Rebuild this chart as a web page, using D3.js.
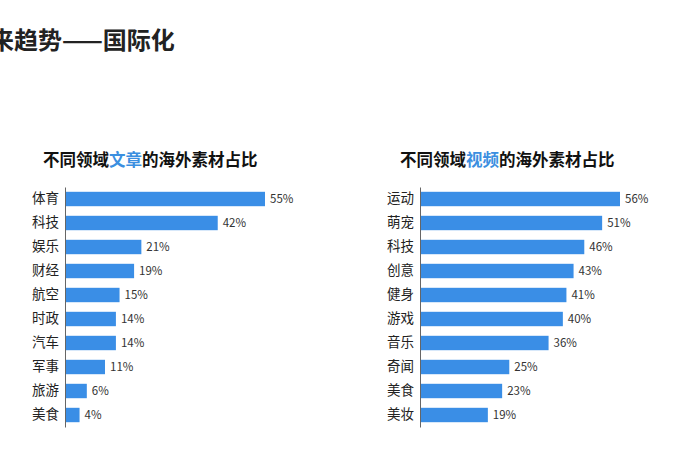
<!DOCTYPE html><html><head><meta charset="utf-8"><script src="https://cdn.jsdelivr.net/npm/d3@7"></script>
<style>body{margin:0;background:#fff}text{font-family:"Noto Sans CJK SC",sans-serif}</style></head><body><svg width="700" height="470"></svg>
<script>
const leftCats=["体育","科技","娱乐","财经","航空","时政","汽车","军事","旅游","美食"];
const leftVals=[55,42,21,19,15,14,14,11,6,4];
const rightCats=["运动","萌宠","科技","创意","健身","游戏","音乐","奇闻","美食","美妆"];
const rightVals=[56,51,46,43,41,40,36,25,23,19];
const svg=d3.select("svg");
svg.append("text").attr("x",-34).attr("y",49).attr("font-size",24).attr("font-weight","bold").attr("fill","#222").text("未来趋势——国际化");
function panel(x0,cats,vals,pxPer,titleX,hl){
  const t=svg.append("text").attr("x",titleX).attr("y",166).attr("font-size",16.5).attr("font-weight","bold").attr("fill","#111");
  t.append("tspan").text("不同领域");t.append("tspan").attr("fill","#3b8fe0").text(hl);t.append("tspan").text("的海外素材占比");
  const y=d3.scaleBand().domain(cats).range([187,427]).paddingInner(0.4).paddingOuter(0.2);
  const x=d3.scaleLinear().domain([0,56]).range([x0,x0+56*pxPer]);
  const g=svg.append("g");
  g.selectAll("rect").data(vals).join("rect").attr("x",x0).attr("y",(d,i)=>y(cats[i])).attr("height",y.bandwidth()).attr("width",d=>x(d)-x0).attr("fill","#3a8ee6");
  g.selectAll(".v").data(vals).join("text").attr("x",d=>x(d)+5).attr("y",(d,i)=>y(cats[i])+y.bandwidth()/2).attr("dy","0.35em").attr("font-size",11.5).attr("fill","#333").text(d=>d+"%");
  const ax=svg.append("g").attr("transform",`translate(${x0},0)`).call(d3.axisLeft(y).tickSize(0).tickPadding(6));
  ax.select(".domain").attr("stroke","#666");
  ax.selectAll("text").attr("font-size",13.5).attr("fill","#222").style("font-family","'Noto Sans CJK SC'");
}
panel(65,leftCats,leftVals,200/55,43,"文章");
panel(420,rightCats,rightVals,200/56,400,"视频");
</script></body></html>
